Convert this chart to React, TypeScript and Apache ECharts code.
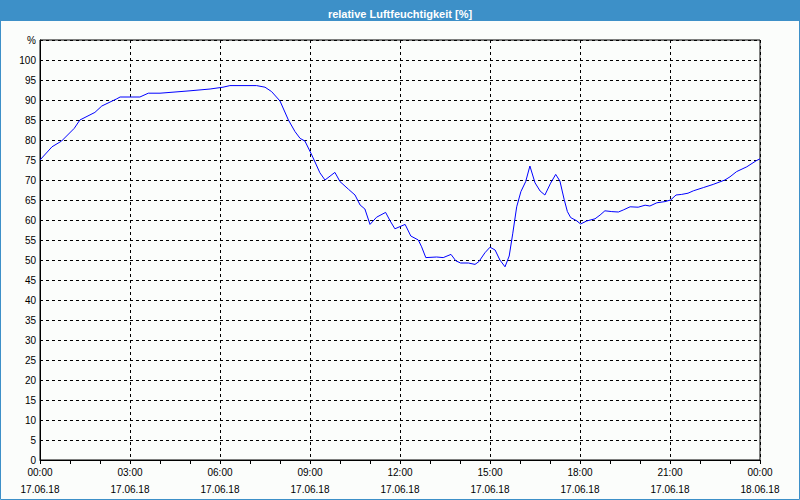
import React, { useEffect, useRef } from "react";
import * as echarts from "echarts";

const chartTitle = "relative Luftfeuchtigkeit [%]";
const hours = [
  0, 0.4, 0.72, 1.14, 1.33, 1.83, 2.06, 2.56, 2.67, 3.33, 3.61, 4.0, 4.5, 5.0, 5.67, 6.1, 6.33, 7.22, 7.5, 7.72,
  8.0, 8.28, 8.5, 8.67, 8.83, 9.06, 9.33, 9.5, 9.83, 10.0, 10.28, 10.5, 10.67, 10.83, 11.0, 11.22, 11.52, 11.67,
  11.83, 12.17, 12.36, 12.61, 12.72, 12.86, 13.22, 13.44, 13.7, 13.86, 14.02, 14.28, 14.5, 14.63, 14.83, 15.0,
  15.17, 15.33, 15.5, 15.64, 15.76, 15.89, 16.03, 16.19, 16.33, 16.5, 16.67, 16.83, 17.02, 17.19, 17.33, 17.47,
  17.58, 17.69, 17.89, 18.02, 18.22, 18.5, 18.67, 18.83, 19.06, 19.28, 19.44, 19.67, 19.94, 20.17, 20.33, 20.56,
  20.83, 21.02, 21.2, 21.39, 21.6, 21.78, 22.11, 22.44, 22.83, 23.0, 23.22, 23.56, 23.87, 24.0,
];
const humidity = [
  75, 78.3, 79.75, 82.9, 85, 86.9, 88.5, 90.3, 90.75, 90.75, 91.7, 91.7, 92.0, 92.3, 92.75, 93.2, 93.6, 93.6, 93.2, 92.1,
  89.75, 85, 82.1, 80.4, 79.75, 76.25, 71.8, 70, 71.9, 69.6, 67.7, 66.25, 63.75, 62.75, 58.9, 60.7, 61.9, 59.8,
  57.8, 58.9, 56, 55, 53.3, 50.6, 50.75, 50.6, 51.4, 49.8, 49.25, 49.25, 48.9, 49.6, 51.8, 53.2,
  52.5, 50, 48.3, 51, 56.7, 63.3, 67.1, 69.6, 73.5, 69.3, 67.25, 66.25, 69.2, 71.4, 69.75, 65.2,
  62.1, 60.6, 59.8, 59, 59.75, 60.3, 61.25, 62.3, 62.1, 62, 62.5, 63.3, 63.2, 63.7, 63.5, 64.3,
  64.6, 65, 66.25, 66.4, 66.7, 67.3, 68.1, 68.9, 70, 70.8, 72.1, 73.3, 74.8, 75.3,
];
const timeLabels = ["00:00", "03:00", "06:00", "09:00", "12:00", "15:00", "18:00", "21:00", "00:00"];
const dateLabels = ["17.06.18", "17.06.18", "17.06.18", "17.06.18", "17.06.18", "17.06.18", "17.06.18", "17.06.18", "18.06.18"];
const yUnitLabel = "%";

export default function App() {
  const ref = useRef<HTMLDivElement>(null);
  useEffect(() => {
    if (!ref.current) return;
    const chart = echarts.init(ref.current, null, { renderer: "svg" });
    const font = "'Liberation Sans', Arial, sans-serif";
    chart.setOption({
      animation: false,
      backgroundColor: "#fbfdfb",
      title: {
        text: chartTitle,
        left: "center",
        top: 3,
        textStyle: { color: "#ffffff", fontSize: 11, fontWeight: "bold", fontFamily: font },
      },
      graphic: [
        { type: "rect", z: -1, shape: { x: 0, y: 0, width: 800, height: 21 }, style: { fill: "#3d90c8" } },
        { type: "rect", z: -1, shape: { x: 0.5, y: 0.5, width: 799, height: 499 }, style: { fill: "none", stroke: "#3d90c8", lineWidth: 1 } },
      ],
      grid: { left: 40, top: 40, width: 720, height: 420, show: true, borderColor: "#000", borderWidth: 1, backgroundColor: "transparent" },
      xAxis: {
        type: "value",
        min: 0,
        max: 24,
        interval: 3,
        axisLine: { show: true, lineStyle: { color: "#000", width: 1 } },
        axisTick: { show: true, length: 4, lineStyle: { color: "#000" } },
        minorTick: { show: true, splitNumber: 3, length: 4, lineStyle: { color: "#000" } },
        splitLine: { show: true, lineStyle: { color: "#000", type: [3, 3], width: 1 } },
        axisLabel: {
          margin: 4,
          color: "#000",
          fontSize: 10,
          fontFamily: font,
          lineHeight: 17,
          formatter: (v: number) => {
            const i = Math.round(v / 3);
            return timeLabels[i] + "\n" + dateLabels[i];
          },
        },
      },
      yAxis: {
        type: "value",
        min: 0,
        max: 105,
        interval: 5,
        axisLine: { show: true, lineStyle: { color: "#000", width: 1 } },
        axisTick: { show: false },
        splitLine: { show: true, lineStyle: { color: "#000", type: [3, 3], width: 1 } },
        axisLabel: {
          margin: 4,
          color: "#000",
          fontSize: 10,
          fontFamily: font,
          formatter: (v: number) => (v === 105 ? yUnitLabel : String(v)),
        },
      },
      series: [
        {
          type: "line",
          data: hours.map((h, i) => [h, humidity[i]]),
          showSymbol: false,
          symbol: "none",
          lineStyle: { color: "#0000ff", width: 1 },
        },
      ],
    });
    return () => chart.dispose();
  }, []);
  return <div ref={ref} style={{ position: "fixed", left: 0, top: 0, width: 800, height: 500 }} />;
}
